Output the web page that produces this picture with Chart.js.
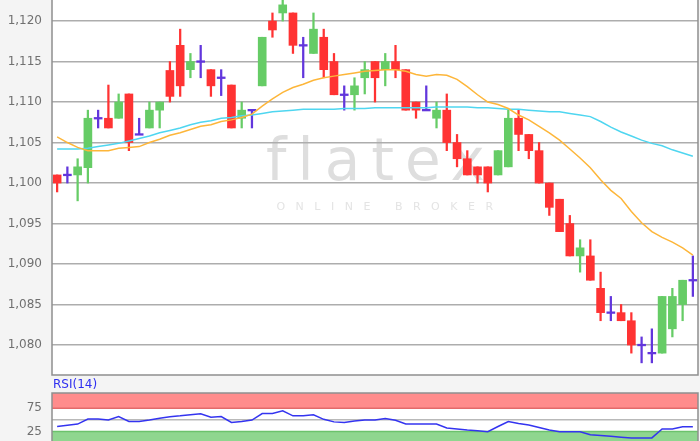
<!DOCTYPE html>
<html>
<head>
<meta charset="utf-8">
<script src="https://cdn.jsdelivr.net/npm/chart.js@4.4.1/dist/chart.umd.min.js"></script>
<style>
  html, body { margin: 0; padding: 0; background: #f4f4f4; overflow: hidden; }
  #wrap { position: relative; width: 700px; height: 441px; }
  #main { position: absolute; left: 0; top: 0; }
  #rsi { position: absolute; left: 0; top: 376px; }
</style>
</head>
<body>
<div id="wrap">
  <canvas id="main" width="700" height="376" style="width:700px;height:376px"></canvas>
  <canvas id="rsi" width="700" height="68" style="width:700px;height:68px"></canvas>
</div>
<script>
// Kursdaten (OHLC), je Kerze ein Wert
const openVals  = [1.101,1.101,1.101,1.1019,1.108,1.108,1.108,1.111,1.106,1.1068,1.109,1.1139,1.117,1.114,1.115,1.114,1.113,1.1121,1.108,1.109,1.112,1.120,1.121,1.121,1.117,1.116,1.118,1.115,1.1109,1.1109,1.113,1.115,1.114,1.115,1.114,1.110,1.109,1.108,1.109,1.105,1.103,1.102,1.102,1.101,1.102,1.108,1.106,1.104,1.100,1.098,1.095,1.091,1.091,1.087,1.084,1.084,1.083,1.080,1.079,1.079,1.082,1.085,1.088];
const highVals  = [1.101,1.102,1.103,1.109,1.109,1.1121,1.111,1.111,1.108,1.110,1.110,1.115,1.119,1.116,1.117,1.114,1.114,1.1121,1.110,1.109,1.118,1.121,1.1235,1.121,1.118,1.121,1.119,1.116,1.112,1.113,1.115,1.115,1.116,1.117,1.114,1.110,1.112,1.110,1.111,1.106,1.104,1.102,1.102,1.104,1.109,1.109,1.106,1.105,1.100,1.098,1.096,1.093,1.093,1.089,1.086,1.085,1.084,1.081,1.082,1.086,1.087,1.088,1.091];
const lowVals   = [1.0989,1.100,1.0978,1.100,1.1068,1.1068,1.108,1.104,1.106,1.1068,1.1068,1.110,1.1107,1.113,1.113,1.1107,1.1108,1.1068,1.1068,1.1068,1.112,1.118,1.120,1.116,1.113,1.116,1.113,1.1109,1.109,1.109,1.111,1.110,1.112,1.113,1.109,1.108,1.109,1.1068,1.104,1.102,1.101,1.100,1.0989,1.101,1.102,1.104,1.103,1.100,1.096,1.094,1.091,1.089,1.088,1.083,1.083,1.083,1.079,1.0778,1.0778,1.079,1.081,1.083,1.086];
const closeVals = [1.100,1.101,1.102,1.108,1.108,1.1068,1.110,1.105,1.106,1.109,1.110,1.1107,1.112,1.115,1.115,1.112,1.113,1.1068,1.109,1.109,1.118,1.1189,1.122,1.117,1.117,1.119,1.114,1.1109,1.1109,1.112,1.114,1.113,1.115,1.114,1.109,1.109,1.109,1.109,1.105,1.103,1.101,1.101,1.100,1.104,1.108,1.106,1.104,1.100,1.097,1.094,1.091,1.092,1.088,1.084,1.084,1.083,1.080,1.080,1.079,1.086,1.086,1.088,1.088];

// gleitende Durchschnitte (orange = kurz, cyan = lang)
const smaShort = [1.1057,1.1050,1.1044,1.1040,1.1040,1.1040,1.1043,1.1044,1.1045,1.1050,1.1054,1.1059,1.1062,1.1066,1.1070,1.1072,1.1076,1.1078,1.1081,1.1085,1.1095,1.1104,1.1112,1.1118,1.1122,1.1127,1.1130,1.1132,1.1134,1.1136,1.1138,1.1139,1.1140,1.1140,1.1138,1.1134,1.1132,1.1134,1.1133,1.1128,1.1119,1.1109,1.1100,1.1097,1.1092,1.1084,1.1078,1.1070,1.1062,1.1053,1.1042,1.1031,1.1019,1.1004,1.0991,1.0981,1.0965,1.0951,1.0940,1.0933,1.0927,1.0920,1.0911];
const smaLong  = [1.1042,1.1042,1.1042,1.1043,1.1045,1.1047,1.1049,1.1052,1.1055,1.1058,1.1062,1.1065,1.1068,1.1072,1.1075,1.1077,1.1080,1.1081,1.1083,1.1084,1.1086,1.1088,1.1089,1.1090,1.1091,1.1091,1.1091,1.1091,1.1092,1.1092,1.1092,1.1093,1.1093,1.1093,1.1093,1.1093,1.1093,1.1094,1.1094,1.1094,1.1094,1.1093,1.1093,1.1092,1.1091,1.1091,1.1090,1.1089,1.1088,1.1088,1.1086,1.1084,1.1082,1.1076,1.1069,1.1063,1.1058,1.1053,1.1049,1.1046,1.1041,1.1037,1.1033];

// RSI(14)
const rsiVals = [35.7,38.2,40.8,51.5,51.5,49.4,57.1,46.4,46.4,49.4,53.5,56.5,58.5,61,63,55.5,57.1,44.2,46.4,49.4,63.5,63.5,69.2,58.5,58.5,60.7,51,45.5,44.2,47.5,49.4,49.4,52.8,49,40.8,40.8,40.8,40.8,32.3,30.1,28,26.5,24.4,35.5,46.4,42.1,38.7,33.5,28,24.4,24.4,24.4,18,16,14.3,12.5,10.9,10.9,10.9,30.1,30.1,35,35];
const rsiTicks = [75, 25];
const rsiLevels = [75, 50, 25];

const priceTicksStep = 0.005;
const labels = openVals.map((_, i) => i + 1);

const upColor = '#66cc66';
const downColor = '#ff3333';
const dojiColor = '#6236dc';
const bgColor = '#f4f4f4';

function candleColor(i) {
  if (closeVals[i] > openVals[i]) return upColor;
  if (closeVals[i] < openVals[i]) return downColor;
  return dojiColor;
}
const colors = labels.map((_, i) => candleColor(i));

// Doji bekommt nur einen dünnen Querstrich
const bodies = labels.map((_, i) => {
  if (openVals[i] === closeVals[i]) return [closeVals[i] - 0.0001, closeVals[i] + 0.0001];
  return [openVals[i], closeVals[i]];
});
const wicks = labels.map((_, i) => [lowVals[i], highVals[i]]);

const tickFont = { family: 'DejaVu Sans', size: 12 };

// Achse fest 52px breit, ohne Zusatzabstand oben/unten
function fixAxis(s) {
  s.width = 52;
  s.paddingTop = 0;
  s.paddingBottom = 0;
}

// Hintergrund, Wasserzeichen, Rahmen
const mainBg = {
  id: 'mainBg',
  beforeDraw(chart) {
    const { ctx, chartArea: a } = chart;
    ctx.save();
    ctx.fillStyle = bgColor;
    ctx.fillRect(0, 0, chart.width, chart.height);
    ctx.fillStyle = '#ffffff';
    ctx.fillRect(a.left, a.top, a.right - a.left, a.bottom - a.top);
    // Wasserzeichen
    ctx.fillStyle = '#dedede';
    ctx.textAlign = 'center';
    ctx.textBaseline = 'alphabetic';
    ctx.font = '58px "DejaVu Sans"';
    ctx.letterSpacing = '11px';
    ctx.fillText('flatex', 381, 180);
    ctx.fillStyle = '#e4e4e4';
    ctx.font = '11px "DejaVu Sans"';
    ctx.letterSpacing = '10.5px';
    ctx.fillText('ONLINE BROKER', 390, 210);
    ctx.restore();
  },
  afterDraw(chart) {
    const { ctx, chartArea: a } = chart;
    ctx.save();
    ctx.strokeStyle = '#8e8e8e';
    ctx.lineWidth = 1.5;
    ctx.strokeRect(a.left, a.top - 2, a.right - a.left, a.bottom - a.top + 2);
    ctx.restore();
  }
};

new Chart(document.getElementById('main'), {
  type: 'bar',
  data: {
    labels: labels,
    datasets: [
      { type: 'line', data: smaShort, borderColor: '#fdb63a', borderWidth: 1.5, pointRadius: 0, tension: 0, order: 0 },
      { type: 'line', data: smaLong, borderColor: '#4fd6f0', borderWidth: 1.5, pointRadius: 0, tension: 0, order: 1 },
      { data: bodies, backgroundColor: colors, barThickness: 8, borderWidth: 0, borderSkipped: false, grouped: false, order: 2 },
      { data: wicks, backgroundColor: colors, barThickness: 1.6, borderWidth: 0, borderSkipped: false, grouped: false, order: 3 }
    ]
  },
  options: {
    responsive: false,
    animation: false,
    events: [],
    layout: { padding: { top: 0, right: 2, bottom: 1, left: 0 } },
    plugins: { legend: { display: false }, tooltip: { enabled: false } },
    scales: {
      x: { display: false, offset: true },
      y: {
        min: 1.0763,
        max: 1.1226,
        afterFit: fixAxis,
        border: { display: false },
        grid: { color: '#adadad', lineWidth: 1.5, drawTicks: false },
        ticks: {
          stepSize: priceTicksStep,
          includeBounds: false,
          padding: 10,
          color: '#707070',
          font: tickFont,
          callback: (v) => Number(v).toFixed(3).replace('.', ',')
        }
      }
    }
  },
  plugins: [mainBg]
});

// RSI-Bänder und Beschriftung
const rsiBg = {
  id: 'rsiBg',
  beforeDraw(chart) {
    const { ctx, chartArea: a } = chart;
    const y = chart.scales.y;
    ctx.save();
    ctx.fillStyle = bgColor;
    ctx.fillRect(0, 0, chart.width, chart.height);
    ctx.fillStyle = '#ffffff';
    ctx.fillRect(a.left, a.top, a.right - a.left, a.bottom - a.top);
    const y75 = y.getPixelForValue(rsiLevels[0]);
    const y50 = y.getPixelForValue(rsiLevels[1]);
    const y25 = y.getPixelForValue(rsiLevels[2]);
    ctx.fillStyle = '#ff8c8c';
    ctx.fillRect(a.left, a.top, a.right - a.left, y75 - a.top);
    ctx.fillStyle = '#8fd68f';
    ctx.fillRect(a.left, y25, a.right - a.left, a.bottom - y25);
    ctx.lineWidth = 1.5;
    ctx.strokeStyle = '#e36a6a';
    ctx.beginPath(); ctx.moveTo(a.left, y75); ctx.lineTo(a.right, y75); ctx.stroke();
    ctx.strokeStyle = '#6cc26c';
    ctx.beginPath(); ctx.moveTo(a.left, y25); ctx.lineTo(a.right, y25); ctx.stroke();
    ctx.strokeStyle = '#b9b9b9';
    ctx.beginPath(); ctx.moveTo(a.left, y50); ctx.lineTo(a.right, y50); ctx.stroke();
    ctx.fillStyle = '#2f2ff0';
    ctx.font = '12px "DejaVu Sans"';
    ctx.textBaseline = 'middle';
    ctx.fillText('RSI(14)', a.left + 1, 9);
    ctx.restore();
  },
  afterDraw(chart) {
    const { ctx, chartArea: a } = chart;
    ctx.save();
    ctx.strokeStyle = '#8e8e8e';
    ctx.lineWidth = 1.5;
    ctx.strokeRect(a.left, a.top, a.right - a.left, a.bottom - a.top + 4);
    ctx.restore();
  }
};

new Chart(document.getElementById('rsi'), {
  type: 'line',
  data: {
    labels: labels,
    datasets: [
      { data: rsiVals, borderColor: '#3434f0', borderWidth: 1.5, pointRadius: 0, tension: 0 }
    ]
  },
  options: {
    responsive: false,
    animation: false,
    events: [],
    layout: { padding: { top: 17, right: 2, bottom: 1, left: 0 } },
    plugins: { legend: { display: false }, tooltip: { enabled: false } },
    scales: {
      x: { display: false, offset: true },
      y: {
        min: 0,
        max: 107.7,
        afterFit: fixAxis,
        afterBuildTicks: (s) => { s.ticks = rsiTicks.map(v => ({ value: v })); },
        border: { display: false },
        grid: { display: false, drawTicks: false },
        ticks: { padding: 10, color: '#707070', font: tickFont }
      }
    }
  },
  plugins: [rsiBg]
});
</script>
</body>
</html>
